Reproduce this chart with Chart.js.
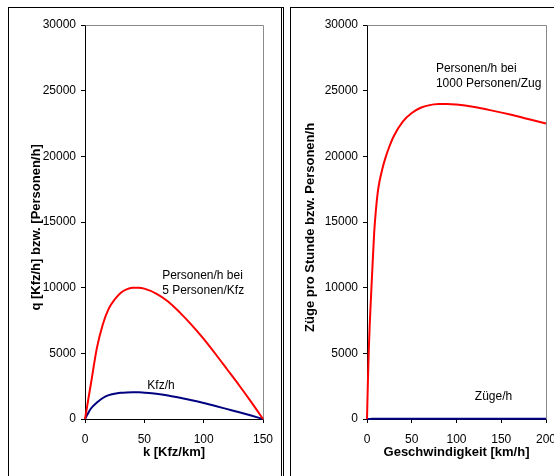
<!DOCTYPE html>
<html>
<head>
<meta charset="utf-8">
<script src="https://cdn.jsdelivr.net/npm/chart.js@4/dist/chart.umd.min.js"></script>
<style>
  body { margin: 0; background: #fff; overflow: hidden; width: 554px; height: 476px; position: relative; }
  .panel { position: absolute; top: 7px; height: 520px; border: 1px solid #000; box-sizing: border-box; }
  #p1 { left: 8px; width: 276px; border-right: 3px double #000; }
  #p2 { left: 290px; width: 300px; }
  canvas { position: absolute; left: 0; top: 0; }
</style>
</head>
<body>
<div class="panel" id="p1"><canvas id="roadChart" width="272" height="468"></canvas></div>
<div class="panel" id="p2"><canvas id="railChart" width="263" height="468"></canvas></div>
<script>
// Strasse: Dichte k [Kfz/km]
const kValues = [0, 2, 5, 10, 15, 20, 25, 30, 35, 40, 45, 50, 60, 70, 80, 90, 100, 110, 120, 130, 140, 150]
const personsRoad = [0, 1080, 2700, 5400, 7200, 8400, 9100, 9600, 9870, 9990, 10000, 9930, 9550, 8950, 8100, 7150, 6100, 4950, 3750, 2550, 1300, 0]
const vehiclesPerHour = [0, 340, 800, 1250, 1600, 1820, 1930, 1990, 2020, 2030, 2030, 2000, 1920, 1790, 1620, 1430, 1220, 990, 750, 510, 260, 0]

// Schiene: Geschwindigkeit [km/h]
const speeds = [0, 1, 2, 3, 4, 5, 6, 8, 10, 12, 14, 17, 20, 25, 30, 40, 50, 60, 70, 80, 90, 100, 120, 140, 160, 180, 200]
const personsRail = [0, 2800, 5250, 7100, 8600, 10050, 11450, 14150, 15950, 17250, 18100, 19000, 19750, 20750, 21550, 22650, 23300, 23700, 23900, 23980, 23990, 23940, 23750, 23480, 23180, 22840, 22500]
const trainsPerHour = [0, 2.8, 5.25, 7.1, 8.6, 10.05, 11.45, 14.15, 15.95, 17.25, 18.1, 19, 19.75, 20.75, 21.55, 22.65, 23.3, 23.7, 23.9, 23.98, 23.99, 23.94, 23.75, 23.48, 23.18, 22.84, 22.5]

const yTicks = [0, 5000, 10000, 15000, 20000, 25000, 30000]

const fontName = "'Liberation Sans', Arial, sans-serif"

function points(xs, ys) {
  return xs.map((x, i) => ({ x: x, y: ys[i] }))
}

function lineSet(label, xs, ys, color) {
  return {
    label: label,
    data: points(xs, ys),
    showLine: true,
    borderColor: color,
    borderWidth: 2,
    pointRadius: 0,
    cubicInterpolationMode: 'monotone',
    clip: false
  }
}

// grauer Rahmen oben/rechts der Zeichenflaeche
const plotFrame = {
  id: 'plotFrame',
  beforeDatasetsDraw(chart) {
    const a = chart.chartArea
    const ctx = chart.ctx
    ctx.save()
    ctx.strokeStyle = '#8a8a8a'
    ctx.lineWidth = 1
    ctx.beginPath()
    ctx.moveTo(Math.round(a.left) + 0.5, Math.round(a.top) + 0.5)
    ctx.lineTo(Math.round(a.right) + 0.5, Math.round(a.top) + 0.5)
    ctx.lineTo(Math.round(a.right) + 0.5, Math.round(a.bottom) + 0.5)
    ctx.stroke()
    ctx.restore()
  }
}

// Beschriftungen an den Kurven (Position in Datenkoordinaten)
const curveLabels = {
  id: 'curveLabels',
  afterDatasetsDraw(chart, args, opts) {
    const ctx = chart.ctx
    const xs = chart.scales.x, ys = chart.scales.y
    ctx.save()
    ctx.fillStyle = '#000'
    ctx.font = '12px ' + fontName
    ctx.textBaseline = 'middle'
    ctx.textAlign = 'left'
    opts.items.forEach(item => {
      const px = xs.getPixelForValue(item.x)
      const py = ys.getPixelForValue(item.y)
      item.lines.forEach((t, i) => ctx.fillText(t, px, py + i * 15))
    })
    ctx.restore()
  }
}

function makeChart(id, cfg) {
  const ctx = document.getElementById(id).getContext('2d')
  return new Chart(ctx, {
    type: 'scatter',
    data: { datasets: cfg.datasets },
    options: {
      responsive: false,
      animation: false,
      devicePixelRatio: 1,
      layout: { padding: { top: 17, right: cfg.padRight, left: 0, bottom: 0 } },
      plugins: {
        legend: { display: false },
        tooltip: { enabled: false },
        curveLabels: { items: cfg.labels }
      },
      scales: {
        x: {
          type: 'linear',
          min: 0, max: cfg.xMax,
          ticks: { stepSize: 50, color: '#000', font: { size: 12, family: fontName }, padding: 9, maxRotation: 0 },
          grid: { drawOnChartArea: false, color: '#000', tickLength: 4 },
          border: { color: '#000', width: 1 },
          title: { display: true, text: cfg.xTitle, color: '#000', font: { size: 13, weight: 'bold', family: fontName }, padding: { top: 0, bottom: 16 } },
          afterFit(s) { s.height = 57; s.paddingLeft = 0; s.paddingRight = 0 }
        },
        y: {
          min: 0, max: 30000,
          afterBuildTicks(s) { s.ticks = yTicks.map(v => ({ value: v })) },
          ticks: { color: '#000', font: { size: 12, family: fontName }, padding: 5, callback: v => String(v) },
          grid: { drawOnChartArea: false, color: '#000', tickLength: 4 },
          border: { color: '#000', width: 1 },
          // trailing spaces move the rotated title a little lower, as in the original
          title: { display: true, text: cfg.yTitle + '   ', color: '#000', font: { size: 13, weight: 'bold', family: fontName }, padding: { top: cfg.yTitlePad, bottom: 0 } },
          afterFit(s) { s.width = cfg.yWidth; s.paddingTop = 0; s.paddingBottom = 0 }
        }
      }
    },
    plugins: [plotFrame, curveLabels]
  })
}

makeChart('roadChart', {
  datasets: [
    lineSet('Personen/h bei 5 Personen/Kfz', kValues, personsRoad, '#ff0000'),
    lineSet('Kfz/h', kValues, vehiclesPerHour, '#000080')
  ],
  xMax: 150,
  padRight: 18,
  yWidth: 76,
  yTitlePad: 20,
  xTitle: 'k [Kfz/km]',
  yTitle: 'q [Kfz/h] bzw. [Personen/h]',
  labels: [
    { x: 65, y: 10900, lines: ['Personen/h bei', '5 Personen/Kfz'] },
    { x: 52.5, y: 2530, lines: ['Kfz/h'] }
  ]
})

makeChart('railChart', {
  datasets: [
    lineSet('Personen/h bei 1000 Personen/Zug', speeds, personsRail, '#ff0000'),
    lineSet('Züge/h', speeds, trainsPerHour, '#000080')
  ],
  xMax: 200,
  padRight: 8,
  yWidth: 76,
  yTitlePad: 12,
  xTitle: 'Geschwindigkeit [km/h]',
  yTitle: 'Züge pro Stunde bzw. Personen/h',
  labels: [
    { x: 77, y: 26650, lines: ['Personen/h bei', '1000 Personen/Zug'] },
    { x: 120.5, y: 1700, lines: ['Züge/h'] }
  ]
})
</script>
</body>
</html>
